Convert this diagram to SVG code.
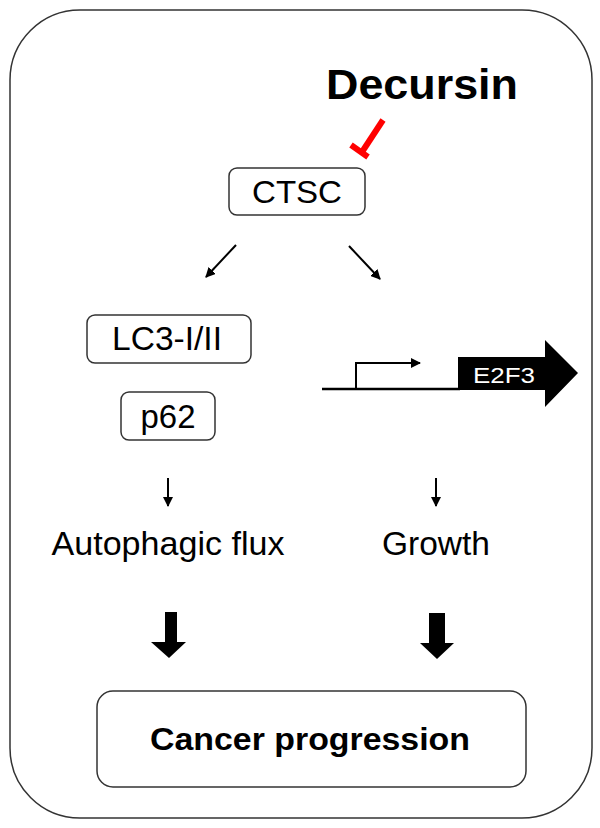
<svg xmlns="http://www.w3.org/2000/svg" width="600" height="828" viewBox="0 0 600 828">
<style>
.box{fill:#fff;stroke:#333;stroke-width:1.5}
.t{font-family:"Liberation Sans",Arial,sans-serif;fill:#000;text-anchor:middle}
.thin{stroke:#000;stroke-width:2;fill:none}
</style>
<defs>
<marker id="ah" viewBox="0 0 10 10" refX="9" refY="5" markerWidth="5" markerHeight="5" orient="auto-start-reverse" markerUnits="strokeWidth"><path d="M0,0 L10,5 L0,10 z" fill="#000"/></marker>
</defs>
<rect x="10" y="10" width="582" height="808" rx="70" ry="70" fill="#fff" stroke="#333" stroke-width="1.5"/>
<g id="decursin"><text class="t" x="422" y="99" font-size="42" font-weight="bold" textLength="192" lengthAdjust="spacingAndGlyphs">Decursin</text></g>
<g id="ctsc"><rect class="box" x="229" y="168" width="136" height="47" rx="8"/><text class="t" x="297" y="203" font-size="32" textLength="90" lengthAdjust="spacingAndGlyphs">CTSC</text></g>
<g id="lc3"><rect class="box" x="87" y="315" width="164" height="48" rx="8"/><text class="t" x="167" y="350" font-size="33" textLength="110" lengthAdjust="spacingAndGlyphs">LC3-I/II</text></g>
<g id="p62"><rect class="box" x="121" y="392" width="94" height="48" rx="8"/><text class="t" x="168" y="428" font-size="33" textLength="55" lengthAdjust="spacingAndGlyphs">p62</text></g>
<g id="e2f3">
<path d="M458,357 H545 V340 L578,373 L545,407 V390 H458 Z" fill="#000"/>
<text x="504" y="383" font-size="22" fill="#fff" text-anchor="middle" font-family="Liberation Sans,Arial,sans-serif" textLength="62" lengthAdjust="spacingAndGlyphs">E2F3</text>
</g>
<g id="autophagic"><text class="t" x="168" y="555" font-size="33" textLength="233" lengthAdjust="spacingAndGlyphs">Autophagic flux</text></g>
<g id="growth"><text class="t" x="436" y="555" font-size="33" textLength="108" lengthAdjust="spacingAndGlyphs">Growth</text></g>
<g id="cancer"><rect class="box" x="97" y="691" width="429" height="96" rx="16"/><text class="t" x="310" y="750" font-size="32" font-weight="bold" textLength="320" lengthAdjust="spacingAndGlyphs">Cancer progression</text></g>
<g id="connectors">
<line x1="383" y1="120" x2="362" y2="152" stroke="#f00" stroke-width="6"/>
<line x1="351" y1="145" x2="368" y2="157" stroke="#f00" stroke-width="6"/>
<line class="thin" x1="236" y1="245" x2="206" y2="277" marker-end="url(#ah)"/>
<line class="thin" x1="349" y1="246" x2="380" y2="279" marker-end="url(#ah)"/>
<line x1="322" y1="389" x2="460" y2="389" stroke="#000" stroke-width="2.5"/>
<path d="M356,389 V363 H420" stroke="#000" stroke-width="2" fill="none" marker-end="url(#ah)"/>
<line class="thin" x1="168" y1="478" x2="168" y2="506" marker-end="url(#ah)"/>
<line class="thin" x1="436" y1="478" x2="436" y2="506" marker-end="url(#ah)"/>
<path d="M165,612 H177 V642 H186 L169,658 L151,642 H165 Z" fill="#000"/>
<path d="M429,613 H445 V643 H454 L437,659 L420,643 H429 Z" fill="#000"/>
</g>
</svg>
